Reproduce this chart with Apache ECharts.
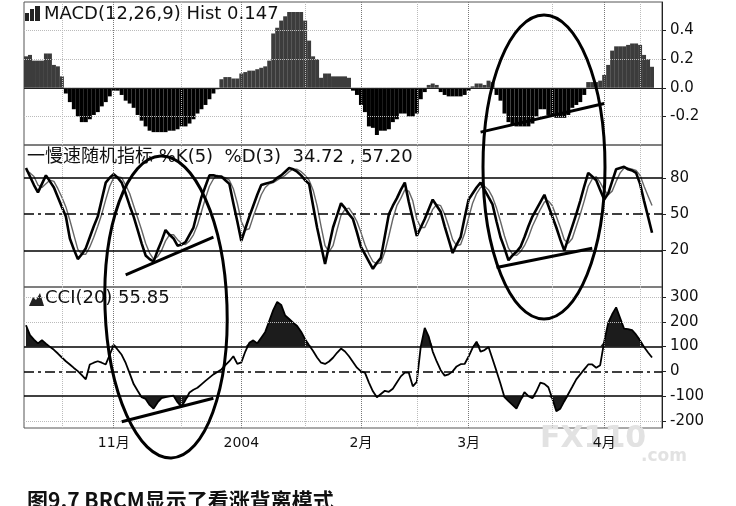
<!DOCTYPE html>
<html>
<head>
<meta charset="utf-8">
<script src="https://cdn.jsdelivr.net/npm/echarts@6/dist/echarts.min.js"></script>
<style>
  html, body { margin: 0; padding: 0; background: #fff; }
  #chart { width: 736px; height: 506px; }
</style>
</head>
<body>
<div id="chart"></div>
<script>
// Categories (one per trading day) and month ticks
const categoryCount = 160;
const categories = Array.from({ length: categoryCount }, (_, i) => String(i));
const monthTickIndex = [22, 54, 84, 111, 145];
const monthTickLabels = ["11月", "2004", "2月", "3月", "4月"];
const minorGridIndex = [9, 39, 70, 98, 132, 154];

// Axis ticks
const macdTicks = [-0.2, 0, 0.2, 0.4];
const stochTicks = [20, 50, 80];
const cciTicks = [-200, -100, 0, 100, 200, 300];

// MACD(12,26,9) histogram
const macdHist = [
  0.22, 0.23, 0.19, 0.19, 0.19, 0.24, 0.24, 0.16, 0.15, 0.08,
  -0.04, -0.1, -0.15, -0.2, -0.24, -0.24, -0.22, -0.19, -0.17, -0.13,
  -0.1, -0.06, -0.02, -0.02, -0.05, -0.09, -0.11, -0.14, -0.19, -0.23,
  -0.27, -0.3, -0.31, -0.31, -0.31, -0.31, -0.3, -0.3, -0.29, -0.27,
  -0.27, -0.25, -0.22, -0.18, -0.15, -0.12, -0.08, -0.04, -0.01, 0.06,
  0.075, 0.075, 0.065, 0.065, 0.1, 0.11, 0.12, 0.12, 0.13, 0.14,
  0.15, 0.19, 0.38, 0.42, 0.47, 0.5, 0.53, 0.53, 0.53, 0.53,
  0.47, 0.33, 0.22, 0.2, 0.07, 0.1, 0.1, 0.08, 0.08, 0.08,
  0.08, 0.07, -0.02, -0.05, -0.12, -0.17, -0.27, -0.28, -0.33, -0.3,
  -0.3, -0.29, -0.24, -0.22, -0.18, -0.18, -0.2, -0.2, -0.18, -0.08,
  -0.03, 0.02, 0.03, 0.02, -0.03, -0.05, -0.06, -0.06, -0.06, -0.06,
  -0.05, -0.02, 0.01, 0.03, 0.03, 0.02, 0.05, 0.04, -0.05, -0.09,
  -0.18, -0.24, -0.26, -0.27, -0.27, -0.27, -0.27, -0.25, -0.2, -0.15,
  -0.15, -0.19, -0.2, -0.21, -0.21, -0.21, -0.19, -0.14, -0.12, -0.1,
  -0.05, 0.04, 0.04, 0.04, 0.05, 0.09, 0.16, 0.26, 0.29, 0.29,
  0.29, 0.3, 0.31, 0.31, 0.3, 0.23, 0.2, 0.147
];

// Slow stochastic %K(5)
const stochK = [
  88, 81, 74, 68, 75, 82, 77, 72, 64, 56,
  48, 30, 21, 13, 17, 22, 31, 40, 48, 62,
  76, 80, 83, 80, 76, 67, 57, 48, 37, 26,
  16, 13, 11, 20, 28, 37, 33, 30, 24, 25,
  27, 33, 39, 52, 64, 73, 82, 82, 81, 81,
  78, 75, 59, 44, 28, 38, 48, 57, 66, 74,
  75, 76, 77, 80, 82, 85, 88, 87, 85, 82,
  78, 75, 57, 39, 24, 9, 24, 39, 49, 59,
  55, 50, 46, 35, 23, 17, 11, 5, 10, 14,
  32, 50, 57, 63, 70, 76, 60, 46, 32, 39,
  46, 54, 62, 57, 52, 40, 29, 18, 25, 31,
  47, 62, 67, 72, 76, 70, 64, 58, 44, 31,
  22, 12, 16, 19, 23, 31, 40, 48, 54, 60,
  66, 57, 48, 39, 29, 20, 30, 40, 50, 61,
  73, 84, 81, 78, 70, 62, 67, 77, 87, 88,
  89, 87, 86, 84, 75, 61, 48, 34.72
];

// %D(3)
const stochD = [
  86, 84, 81, 74, 72, 75, 78, 77, 71, 64,
  56, 45, 33, 21, 17, 17, 23, 31, 40, 50,
  62, 73, 80, 81, 80, 74, 67, 57, 47, 37,
  26, 18, 13, 15, 20, 28, 33, 33, 29, 26,
  25, 28, 33, 41, 52, 63, 73, 79, 82, 81,
  80, 78, 71, 59, 44, 37, 38, 48, 57, 66,
  72, 75, 76, 78, 80, 82, 85, 87, 87, 85,
  82, 78, 70, 57, 40, 24, 19, 24, 37, 49,
  54, 55, 50, 44, 35, 25, 17, 11, 9, 10,
  19, 32, 46, 57, 63, 70, 69, 61, 46, 39,
  39, 46, 54, 58, 57, 50, 40, 29, 24, 25,
  34, 47, 59, 67, 72, 73, 70, 64, 55, 44,
  32, 22, 17, 16, 19, 24, 31, 40, 47, 54,
  60, 61, 57, 48, 39, 29, 26, 30, 40, 50,
  61, 73, 79, 81, 76, 70, 66, 69, 77, 84,
  88, 88, 87, 86, 82, 73, 65, 57.2
];

// CCI(20)
const cci = [
  186, 146, 128, 113, 126, 112, 99, 87, 72, 56,
  41, 28, 14, 1, -15, -32, 28, 35, 41, 35,
  28, 67, 107, 87, 67, 34, -8, -51, -78, -104,
  -111, -135, -150, -125, -108, -104, -101, -98, -124, -143,
  -115, -85, -74, -66, -52, -38, -25, -12, -2, 8,
  25, 41, 61, 30, 36, 80, 115, 125, 113, 136,
  159, 203, 247, 280, 268, 225, 211, 196, 183, 160,
  130, 105, 82, 56, 35, 30, 40, 55, 75, 92,
  80, 61, 38, 15, 0, -5, -45, -80, -104, -91,
  -78, -82, -70, -45, -20, -5, -5, -60, -42, 100,
  175, 140, 80, 40, 5, -17, -12, 0, 20, 29,
  30, 60, 95, 120, 80, 86, 98, 50, 1, -50,
  -104, -120, -135, -150, -117, -84, -100, -108, -80, -45,
  -50, -64, -110, -160, -150, -120, -91, -62, -32, -12,
  8, 28, 28, 15, 25, 120, 195, 230, 258, 215,
  172, 170, 166, 148, 125, 98, 76, 55.85
];

// CCI overbought / oversold levels
const cciUpper = 100;
const cciLower = -100;

// Hand-drawn divergence lines, [category index, value]
const macdTrend = [[114, -0.31], [145, -0.11]];
const stochTrendLeft = [[25, 0], [47, 31]];
const stochTrendRight = [[118, 6], [142, 22]];
const cciTrend = [[24, -203], [47, -108]];

const font = "'DejaVu Sans', 'Noto Sans CJK SC', sans-serif";
const dashDot = [10, 4, 3, 4];

// Vertical dotted grid lines for each panel
function verticalLines() {
  const major = monthTickIndex.map((i) => ({
    xAxis: i,
    lineStyle: { type: "dotted", color: "#777", width: 1 },
  }));
  const minor = minorGridIndex.map((i) => ({
    xAxis: i,
    lineStyle: { type: "dotted", color: "#bbb", width: 1 },
  }));
  return major.concat(minor);
}

function hLine(value, style) {
  return { yAxis: value, lineStyle: style };
}

function gridSeries(gridIndex, lines) {
  return {
    type: "line",
    xAxisIndex: gridIndex,
    yAxisIndex: gridIndex,
    data: [],
    z: 1,
    silent: true,
    markLine: {
      silent: true,
      symbol: "none",
      label: { show: false },
      animation: false,
      data: verticalLines().concat(lines),
    },
  };
}

function trendSeries(gridIndex, points) {
  return {
    type: "line",
    xAxisIndex: gridIndex,
    yAxisIndex: gridIndex,
    data: points,
    showSymbol: false,
    symbol: "none",
    z: 10,
    lineStyle: { color: "#000", width: 3 },
  };
}

function valueAxis(gridIndex, min, max, ticks, fmt) {
  return {
    type: "value",
    gridIndex: gridIndex,
    position: "right",
    min: min,
    max: max,
    axisLine: { show: true, lineStyle: { color: "#222", width: 1 } },
    axisTick: {
      show: true,
      length: 4,
      customValues: ticks,
      lineStyle: { color: "#222" },
    },
    axisLabel: {
      customValues: ticks,
      formatter: fmt,
      color: "#111",
      fontSize: 15,
      fontFamily: font,
      margin: 8,
    },
    splitLine: { show: false },
  };
}

function categoryAxis(gridIndex, withLabels) {
  return {
    type: "category",
    gridIndex: gridIndex,
    data: categories,
    boundaryGap: true,
    axisLine: { show: false },
    axisTick: { show: false },
    splitLine: { show: false },
    axisLabel: {
      show: withLabels,
      interval: (index) => monthTickIndex.includes(index),
      formatter: (value, index) =>
        monthTickLabels[monthTickIndex.indexOf(index)] || "",
      color: "#111",
      fontSize: 14,
      fontFamily: font,
      margin: 8,
    },
  };
}

// Fill between the CCI line and a level: area with its origin on the level
function cciFill(level, above) {
  return {
    type: "line",
    xAxisIndex: 2,
    yAxisIndex: 2,
    data: cci.map((v) => (above ? Math.max(v, level) : Math.min(v, level))),
    showSymbol: false,
    symbol: "none",
    z: 2,
    lineStyle: { width: 0, color: "#1c1c1c" },
    itemStyle: { color: "#1c1c1c" },
    areaStyle: { origin: level, color: "#1c1c1c", opacity: 1 },
  };
}

const chart = echarts.init(document.getElementById("chart"));

const gridBox = { left: 24, width: 638, show: true, borderColor: "#555", borderWidth: 1 };
const titleStyle = { fontFamily: font, fontSize: 18, fontWeight: "normal", color: "#111" };

const option = {
  animation: false,
  backgroundColor: "#fff",
  title: [
    { text: "MACD(12,26,9) Hist 0.147", left: 44, top: 5, padding: 0, textStyle: titleStyle },
    { text: "一慢速随机指标 %K(5)  %D(3)  34.72 , 57.20", left: 27, top: 148, padding: 0, textStyle: titleStyle },
    { text: "CCI(20) 55.85", left: 45, top: 289, padding: 0, textStyle: titleStyle },
  ],
  grid: [
    Object.assign({ top: 2, height: 143 }, gridBox),
    Object.assign({ top: 145, height: 142 }, gridBox),
    Object.assign({ top: 287, height: 141 }, gridBox),
  ],
  xAxis: [categoryAxis(0, false), categoryAxis(1, false), categoryAxis(2, true)],
  yAxis: [
    valueAxis(0, -0.4, 0.6, macdTicks, (v) => v.toFixed(1)),
    valueAxis(1, -10, 107, stochTicks, (v) => String(v)),
    valueAxis(2, -228, 340, cciTicks, (v) => String(v)),
  ],
  series: [
    // MACD panel grid
    gridSeries(0, [
      hLine(0.4, { type: "dotted", color: "#bbb", width: 1 }),
      hLine(0.2, { type: "dotted", color: "#bbb", width: 1 }),
      hLine(-0.2, { type: "dotted", color: "#bbb", width: 1 }),
      hLine(0, { type: "solid", color: "#222", width: 1 }),
    ]),
    // MACD histogram
    {
      name: "Hist",
      type: "bar",
      xAxisIndex: 0,
      yAxisIndex: 0,
      barCategoryGap: "0%",
      z: 3,
      data: macdHist.map((v) => ({
        value: v,
        itemStyle: { color: v >= 0 ? "#3c3c3c" : "#000" },
      })),
    },
    // stochastic panel grid
    gridSeries(1, [
      hLine(80, { type: "solid", color: "#000", width: 1.5 }),
      hLine(20, { type: "solid", color: "#000", width: 1.5 }),
      hLine(50, { type: dashDot, color: "#000", width: 1.5 }),
    ]),
    {
      name: "%D",
      type: "line",
      xAxisIndex: 1,
      yAxisIndex: 1,
      data: stochD,
      showSymbol: false,
      z: 3,
      lineStyle: { color: "#666", width: 1.4 },
    },
    {
      name: "%K",
      type: "line",
      xAxisIndex: 1,
      yAxisIndex: 1,
      data: stochK,
      showSymbol: false,
      z: 4,
      lineStyle: { color: "#000", width: 2.6 },
    },
    // CCI panel grid
    gridSeries(2, [
      hLine(300, { type: "dotted", color: "#bbb", width: 1 }),
      hLine(200, { type: "dotted", color: "#bbb", width: 1 }),
      hLine(-200, { type: "dotted", color: "#bbb", width: 1 }),
      hLine(cciUpper, { type: "solid", color: "#000", width: 1.5 }),
      hLine(cciLower, { type: "solid", color: "#000", width: 1.5 }),
      hLine(0, { type: dashDot, color: "#000", width: 1.5 }),
    ]),
    cciFill(cciUpper, true),
    cciFill(cciLower, false),
    {
      name: "CCI",
      type: "line",
      xAxisIndex: 2,
      yAxisIndex: 2,
      data: cci,
      showSymbol: false,
      z: 4,
      lineStyle: { color: "#000", width: 1.8 },
    },
    // divergence lines
    trendSeries(0, macdTrend),
    trendSeries(1, stochTrendLeft),
    trendSeries(1, stochTrendRight),
    trendSeries(2, cciTrend),
  ],
  graphic: [
    // MACD icon
    { type: "rect", shape: { x: 25, y: 13, width: 4, height: 8 }, style: { fill: "#222" } },
    { type: "rect", shape: { x: 30, y: 9, width: 4, height: 12 }, style: { fill: "#222" } },
    { type: "rect", shape: { x: 35, y: 6, width: 5, height: 15 }, style: { fill: "#222" } },
    // CCI icon
    {
      type: "polygon",
      shape: { points: [[29, 306], [33, 297], [36, 300], [40, 293], [44, 306]] },
      style: { fill: "#222" },
    },
    // ellipses drawn over the chart
    {
      type: "ellipse",
      shape: { cx: 166, cy: 307, rx: 61, ry: 151 },
      rotation: 0.035,
      originX: 166,
      originY: 307,
      style: { fill: "none", stroke: "#000", lineWidth: 3 },
      z: 100,
    },
    {
      type: "ellipse",
      shape: { cx: 544, cy: 167, rx: 61, ry: 152 },
      style: { fill: "none", stroke: "#000", lineWidth: 3 },
      z: 100,
    },
    // watermark
    {
      type: "text",
      left: 540, top: 424,
      style: { text: "FX110", font: "bold 30px 'DejaVu Sans'", fill: "#e2e2e2" },
      z: 0,
    },
    {
      type: "text",
      left: 641, top: 448,
      style: { text: ".com", font: "bold 17px 'DejaVu Sans'", fill: "#e2e2e2" },
      z: 0,
    },
    // caption
    {
      type: "text",
      left: 27, top: 490,
      style: {
        text: "图9.7 BRCM显示了看涨背离模式",
        font: "bold 21px 'Noto Sans CJK SC', 'DejaVu Serif'",
        fill: "#111",
      },
    },
  ],
};

chart.setOption(option);
window.addEventListener("resize", () => chart.resize());
</script>
</body>
</html>
